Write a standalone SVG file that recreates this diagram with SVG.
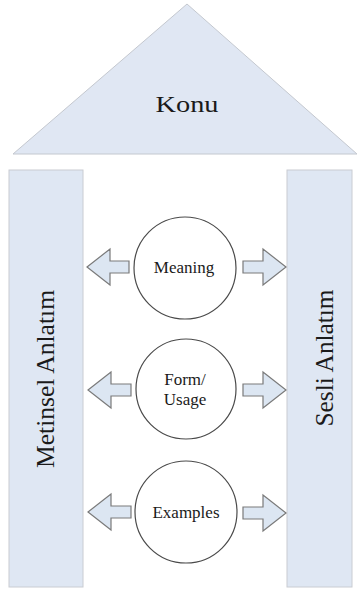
<svg xmlns="http://www.w3.org/2000/svg" width="360" height="590" viewBox="0 0 360 590">
<style>
.bg{fill:#ffffff}
.roof{fill:#e0e7f3;stroke:#c4c8cf;stroke-width:1}
.pillar{fill:#dfe7f3;stroke:#c9ccd2;stroke-width:1}
.circ{fill:#ffffff;stroke:#4a4a4a;stroke-width:1.2}
.arr{fill:#dce6f2;stroke:#7a7a7a;stroke-width:1.2;stroke-linejoin:miter}
.t{font-family:"Liberation Serif","Times New Roman",serif;fill:#1a1a1a;text-anchor:middle}
</style>
<rect class="bg" x="0" y="0" width="360" height="590"/>
<g id="konu">
<polygon class="roof" points="187,4 357,154 13,154"/>
<text class="t" x="187" y="112" font-size="24" textLength="63" lengthAdjust="spacingAndGlyphs">Konu</text>
</g>
<g id="metinsel">
<rect class="pillar" x="9" y="170" width="74" height="417"/>
<text class="t" transform="translate(54,379) rotate(-90)" font-size="26" textLength="178" lengthAdjust="spacingAndGlyphs">Metinsel Anlatım</text>
</g>
<g id="sesli">
<rect class="pillar" x="287" y="170" width="65" height="417"/>
<text class="t" transform="translate(333,358) rotate(-90)" font-size="26" textLength="137" lengthAdjust="spacingAndGlyphs">Sesli Anlatım</text>
</g>
<g id="meaning">
<circle class="circ" cx="185" cy="268" r="51"/>
<text class="t" x="184" y="273" font-size="17">Meaning</text>
</g>
<g id="form">
<circle class="circ" cx="186" cy="389" r="50"/>
<text class="t" x="185" y="385" font-size="17">Form/</text>
<text class="t" x="185" y="405" font-size="17">Usage</text>
</g>
<g id="examples">
<circle class="circ" cx="186" cy="512" r="51"/>
<text class="t" x="186" y="518" font-size="17">Examples</text>
</g>
<g id="connectors">
<path class="arr" d="M87,267 L110,249 L110,261 L129,261 L129,273 L110,273 L110,285 Z"/>
<path class="arr" d="M243,261 L263,261 L263,249 L286,267 L263,285 L263,273 L243,273 Z"/>
<path class="arr" d="M88,390 L111,372 L111,384 L131,384 L131,396 L111,396 L111,408 Z"/>
<path class="arr" d="M243,384 L263,384 L263,372 L286,390 L263,408 L263,396 L243,396 Z"/>
<path class="arr" d="M88,512 L111,494 L111,506 L131,506 L131,518 L111,518 L111,530 Z"/>
<path class="arr" d="M243,507 L263,507 L263,495 L286,513 L263,531 L263,519 L243,519 Z"/>
</g>
</svg>
